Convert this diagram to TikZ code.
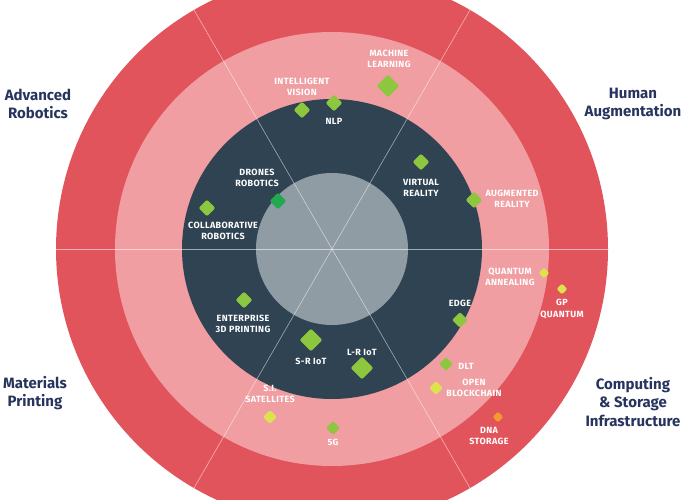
\documentclass[tikz,border=0pt]{standalone}
\usepackage{fontspec}
\setmainfont{Fira Sans}
\usepackage{tikz}
\usetikzlibrary{shapes.geometric}

\definecolor{ringred}{HTML}{E2545C}
\definecolor{ringpink}{HTML}{F09EA1}
\definecolor{ringdark}{HTML}{2F4353}
\definecolor{ringgrey}{HTML}{8F9CA4}
\definecolor{areanavy}{HTML}{26345E}
\definecolor{techgreen}{HTML}{8DC63F}
\definecolor{techdkgreen}{HTML}{22A94F}
\definecolor{techyellow}{HTML}{DDE34C}
\definecolor{techorange}{HTML}{F39A2E}

\tikzset{
  tech/.style={font=\bfseries\fontsize{9}{11.5}\selectfont\addfontfeatures{LetterSpace=4},
    text=white, align=center, inner sep=0pt},
  area/.style={font=\bfseries\fontsize{15}{18.5}\selectfont, text=areanavy,
    align=center, inner sep=0pt},
  dot/.style={diamond, rounded corners=2pt, inner sep=0pt, minimum size=#1},
  dot/.default=17pt,
  spoke/.style={white, opacity=0.55, line width=0.6pt}
}

\begin{document}
\begin{tikzpicture}[x=1pt,y=-1pt]
\useasboundingbox (0,0) rectangle (685,500);
\coordinate (c) at (332,249);

% rings
\begin{scope}
\clip (0,0) rectangle (685,500);
\fill[ringred] (c) circle (276);
\fill[ringpink] (c) circle (217);
\fill[ringdark] (c) circle (150);
\fill[ringgrey] (c) circle (76);
\foreach \a in {0,60,120}
  \draw[spoke] (c) ++(\a:276) -- ++(\a+180:552);
\end{scope}

% areas
\node[area] (robotics) at (38,104) {Advanced\\Robotics};
\node[area] (human) at (633,104) {Human\\Augmentation};
\node[area] (materials) at (35,393) {Materials\\Printing};
\node[area] (computing) at (633,402) {Computing\\\& Storage\\Infrastructure};

% technologies
\node[dot=23pt, fill=techgreen] (ml) at (388,86) {};
\node[tech] (mlt) at (389,59) {MACHINE\\LEARNING};
\node[dot, fill=techgreen] (iv) at (302,110) {};
\node[tech] (ivt) at (302,87) {INTELLIGENT\\VISION};
\node[dot, fill=techgreen] (nlp) at (334,103) {};
\node[tech] (nlpt) at (334,121) {NLP};
\node[dot, fill=techdkgreen] (dr) at (278,201) {};
\node[tech] (drt) at (257,178) {DRONES\\ROBOTICS};
\node[dot, fill=techgreen] (cr) at (207,208) {};
\node[tech] (crt) at (223,231) {COLLABORATIVE\\ROBOTICS};
\node[dot, fill=techgreen] (vr) at (421,162) {};
\node[tech] (vrt) at (421,188) {VIRTUAL\\REALITY};
\node[dot, fill=techgreen] (ar) at (474,200) {};
\node[tech] (art) at (512,199) {AUGMENTED\\REALITY};
\node[dot, fill=techgreen] (ep) at (244,300) {};
\node[tech] (ept) at (243,324) {ENTERPRISE\\3D PRINTING};
\node[dot=23pt, fill=techgreen] (sr) at (311,340) {};
\node[tech] (srt) at (311,361) {S-R IoT};
\node[dot=23pt, fill=techgreen] (lr) at (362,368) {};
\node[tech] (lrt) at (362,352) {L-R IoT};
\node[dot=11pt, fill=techyellow] (qa) at (544,273) {};
\node[tech] (qat) at (510,277) {QUANTUM\\ANNEALING};
\node[dot=11pt, fill=techyellow] (gp) at (562,289) {};
\node[tech] (gpt) at (562,309) {GP\\QUANTUM};
\node[dot=16pt, fill=techgreen] (edge) at (460,320) {};
\node[tech] (edget) at (460,303) {EDGE};
\node[dot=14pt, fill=techgreen] (dlt) at (446,364) {};
\node[tech] (dltt) at (466,366) {DLT};
\node[dot=14pt, fill=techyellow] (ob) at (436,388) {};
\node[tech] (obt) at (474,388) {OPEN\\BLOCKCHAIN};
\node[dot=11pt, fill=techorange] (dna) at (498,417) {};
\node[tech] (dnat) at (489,436) {DNA\\STORAGE};
\node[dot=14pt, fill=techyellow] (si) at (270,417) {};
\node[tech] (sit) at (270,394) {S.I.\\SATELLITES};
\node[dot=14pt, fill=techgreen] (fiveg) at (333,428) {};
\node[tech] (fivegt) at (333,442) {5G};
\end{tikzpicture}
\end{document}
